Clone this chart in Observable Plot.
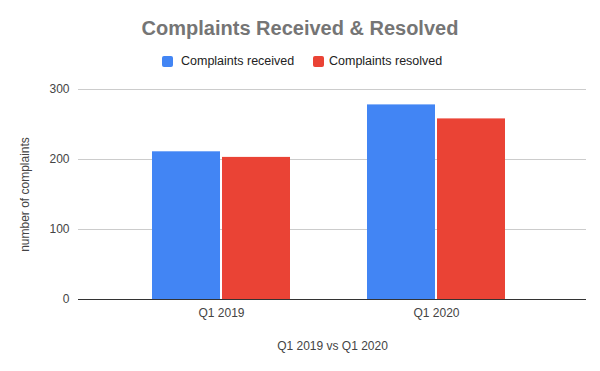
<!DOCTYPE html>
<html>
<head>
<meta charset="utf-8">
<script src="https://cdn.jsdelivr.net/npm/d3@7"></script>
<script src="https://cdn.jsdelivr.net/npm/@observablehq/plot@0.6"></script>
<style>
  html, body { margin: 0; padding: 0; background: #fff; }
  #wrap { position: relative; width: 600px; height: 371px; font-family: "Liberation Sans", Arial, sans-serif; }
  #title { position: absolute; left: 0; top: 17px; width: 600px; text-align: center; font-size: 20px; font-weight: bold; color: #757575; }
  .sw { position: absolute; width: 11px; height: 11px; border-radius: 2px; top: 56px; }
  .lt { position: absolute; top: 54px; font-size: 12.5px; color: #222; white-space: nowrap; }
  #chart { position: absolute; left: 0; top: 0; }
</style>
</head>
<body>
<div id="wrap">
  <div id="chart"></div>
  <div id="title">Complaints Received &amp; Resolved</div>
  <div class="sw" style="left:162px;background:#4285F4"></div>
  <div class="lt" style="left:181px">Complaints received</div>
  <div class="sw" style="left:313px;background:#EA4335"></div>
  <div class="lt" style="left:329px">Complaints resolved</div>
</div>
<script>
const categories = ["Q1 2019", "Q1 2020"];
const seriesNames = ["Complaints received", "Complaints resolved"];
const received = [211, 278];
const resolved = [203, 258];
const yTicks = [0, 100, 200, 300];

const recData = categories.map((c, i) => ({category: c, series: seriesNames[0], value: received[i]}));
const resData = categories.map((c, i) => ({category: c, series: seriesNames[1], value: resolved[i]}));

const chart = Plot.plot({
  width: 600,
  height: 371,
  marginLeft: 78,
  marginRight: 14,
  marginTop: 89,
  marginBottom: 72,
  style: {fontFamily: "'Liberation Sans', Arial, sans-serif", fontSize: "12px", color: "#444", background: "transparent"},
  x: {domain: categories, paddingInner: 0.358, paddingOuter: 0.36, align: 0.477,
      tickSize: 0, tickPadding: 9, label: "Q1 2019 vs Q1 2020", labelAnchor: "center", labelOffset: 50, labelArrow: false},
  y: {domain: [0, 300], ticks: yTicks, tickSize: 0, tickPadding: 9, grid: true,
      label: "number of complaints", labelAnchor: "center", labelOffset: 58, labelArrow: false},
  color: {domain: seriesNames, range: ["#4285F4", "#EA4335"]},
  marks: [
    Plot.gridY(yTicks, {stroke: "#ccc", strokeOpacity: 1}),
    Plot.barY(recData, {x: "category", y: "value", fill: "series", insetRight: 70}),
    Plot.barY(resData, {x: "category", y: "value", fill: "series", insetLeft: 70}),
    Plot.ruleY([0], {stroke: "#333", strokeWidth: 1})
  ]
});
document.getElementById("chart").appendChild(chart);
</script>
</body>
</html>
